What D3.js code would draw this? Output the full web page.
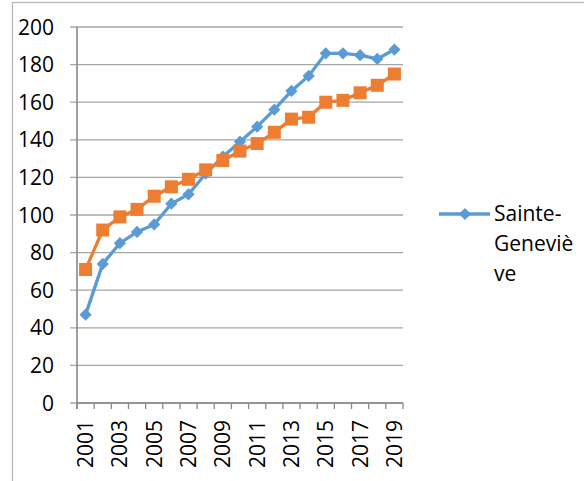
<!DOCTYPE html>
<html>
<head>
<meta charset="utf-8">
<script src="https://cdn.jsdelivr.net/npm/d3@7"></script>
<style>
  body { margin: 0; background: #fff; }
  text { font-family: "Open Sans", sans-serif; fill: #000; }
</style>
</head>
<body>
<svg id="chart" width="584" height="481"></svg>
<script>
// data
const years = ["2001","2002","2003","2004","2005","2006","2007","2008","2009","2010",
  "2011","2012","2013","2014","2015","2016","2017","2018","2019"];
const sainteGenevieve = [47, 74, 85, 91, 95, 106, 111, 122, 131, 139,
  147, 156, 166, 174, 186, 186, 185, 183, 188];
const otherSeries = [71, 92, 99, 103, 110, 115, 119, 124, 129, 134,
  138, 144, 151, 152, 160, 161, 165, 169, 175];
const yTicks = [0, 20, 40, 60, 80, 100, 120, 140, 160, 180, 200];
const xLabels = years.filter((d, i) => i % 2 === 0);

const svg = d3.select("#chart");
const margin = {top: 27, left: 77, right: 181, bottom: 78};
const width = 584, height = 481;

// outer chart border (cut off at right/bottom)
svg.append("rect")
  .attr("x", 12.5).attr("y", 2.5)
  .attr("width", 700).attr("height", 700)
  .attr("fill", "none")
  .attr("stroke", "#b8b8b8")
  .attr("stroke-width", 1.3);

const x = d3.scaleBand()
  .domain(years)
  .range([margin.left, width - margin.right]);

const y = d3.scaleLinear()
  .domain([0, 200])
  .range([height - margin.bottom, margin.top]);

// gridlines
svg.append("g")
  .selectAll("line")
  .data(yTicks)
  .join("line")
  .attr("x1", margin.left - 7)
  .attr("x2", width - margin.right)
  .attr("y1", d => y(d))
  .attr("y2", d => y(d))
  .attr("stroke", "#a6a6a6")
  .attr("stroke-width", 1.3);

// y labels
svg.append("g")
  .selectAll("text")
  .data(yTicks)
  .join("text")
  .attr("x", 54)
  .attr("y", d => y(d))
  .attr("dy", "0.36em")
  .attr("text-anchor", "end")
  .attr("font-size", 21)
  .text(d => d);

// y axis line
svg.append("line")
  .attr("x1", margin.left).attr("x2", margin.left)
  .attr("y1", y(200)).attr("y2", y(0) + 6)
  .attr("stroke", "#888")
  .attr("stroke-width", 1.6);

// x axis line + ticks between categories
svg.append("line")
  .attr("x1", margin.left).attr("x2", width - margin.right)
  .attr("y1", y(0)).attr("y2", y(0))
  .attr("stroke", "#888")
  .attr("stroke-width", 1.6);

const tickPos = years.map(d => x(d)).concat([x.range()[1]]);
svg.append("g")
  .selectAll("line")
  .data(tickPos)
  .join("line")
  .attr("x1", d => d).attr("x2", d => d)
  .attr("y1", y(0)).attr("y2", y(0) + 6)
  .attr("stroke", "#888")
  .attr("stroke-width", 1.3);

// x labels, rotated
svg.append("g")
  .selectAll("text")
  .data(xLabels)
  .join("text")
  .attr("transform", d => `translate(${x(d) + x.bandwidth() / 2}, 420) rotate(-90)`)
  .attr("dy", "0.36em")
  .attr("text-anchor", "end")
  .attr("font-size", 21)
  .text(d => d);

const line = d3.line()
  .x((d, i) => x(years[i]) + x.bandwidth() / 2)
  .y(d => y(d));

const diamond = d3.symbol().type(d3.symbolDiamond2).size(95);

// blue series (drawn first, orange sits on top)
svg.append("path")
  .datum(sainteGenevieve)
  .attr("d", line)
  .attr("fill", "none")
  .attr("stroke", "#5B9BD5")
  .attr("stroke-width", 3.3);

svg.append("g")
  .selectAll("path")
  .data(sainteGenevieve)
  .join("path")
  .attr("transform", (d, i) => `translate(${x(years[i]) + x.bandwidth() / 2}, ${y(d)})`)
  .attr("d", diamond)
  .attr("fill", "#5B9BD5");

// orange series
svg.append("path")
  .datum(otherSeries)
  .attr("d", line)
  .attr("fill", "none")
  .attr("stroke", "#ED7D31")
  .attr("stroke-width", 3.3);

svg.append("g")
  .selectAll("rect")
  .data(otherSeries)
  .join("rect")
  .attr("x", (d, i) => x(years[i]) + x.bandwidth() / 2 - 6.5)
  .attr("y", d => y(d) - 6.5)
  .attr("width", 13)
  .attr("height", 13)
  .attr("fill", "#ED7D31");

// legend
const legend = svg.append("g");
legend.append("line")
  .attr("x1", 439).attr("x2", 490)
  .attr("y1", 214).attr("y2", 214)
  .attr("stroke", "#5B9BD5")
  .attr("stroke-width", 3.3);
legend.append("path")
  .attr("transform", "translate(465, 214)")
  .attr("d", diamond)
  .attr("fill", "#5B9BD5");

const legendLines = ["Sainte-", "Geneviè", "ve"];
legend.append("text")
  .attr("x", 494)
  .attr("font-size", 21)
  .selectAll("tspan")
  .data(legendLines)
  .join("tspan")
  .attr("x", 494)
  .attr("y", (d, i) => 221 + i * 30)
  .text(d => d);
</script>
</body>
</html>
